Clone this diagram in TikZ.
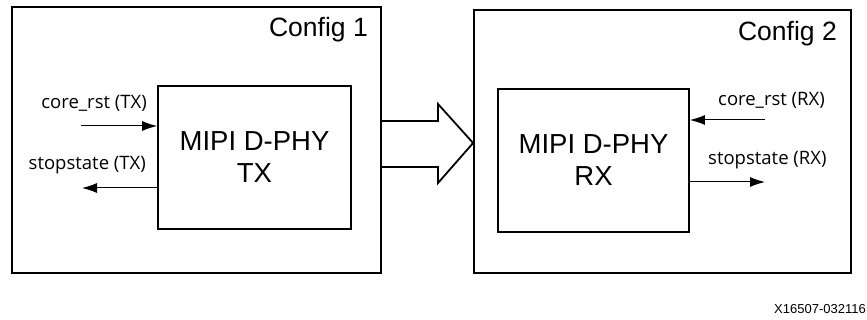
\documentclass[tikz,border=0pt]{standalone}
\usepackage{fontspec}
\setmainfont{Liberation Sans}
\newfontfamily\sigfont{Open Sans}
\usetikzlibrary{arrows.meta}
\tikzset{
  box/.style={draw, line width=1.8pt, inner sep=0pt},
  blk/.style={draw, line width=1.8pt, inner sep=0pt, align=center, font=\fontsize{27.5}{32}\selectfont},
  sig/.style={line width=1pt, -{Latex[length=15pt,width=10pt]}},
  siglabel/.style={inner sep=0pt, font=\sigfont\fontsize{18.5}{22}\selectfont},
  cfglabel/.style={inner sep=0pt, font=\fontsize{26.5}{30}\selectfont},
  bigarrow/.style={draw, line width=1.8pt, line join=miter}
}
\begin{document}
\begin{tikzpicture}[x=1pt,y=-1pt]
\useasboundingbox (0,0) rectangle (867,320);
\node[box, minimum width=369pt, minimum height=266pt] (cfg1) at (196.5,140) {};
\node[box, minimum width=377pt, minimum height=263pt] (cfg2) at (662.5,141.5) {};
\node[blk, minimum width=193pt, minimum height=143pt] (tx) at (254.5,157.5) {MIPI D-PHY\\TX};
\node[blk, minimum width=191pt, minimum height=143pt] (rx) at (593.5,160.5) {MIPI D-PHY\\RX};
\node[cfglabel, anchor=east] (c1) at (368,30) {Config 1};
\node[cfglabel, anchor=east] (c2) at (837,34) {Config 2};
% signals TX
\node[siglabel, anchor=east] (l1) at (147,103) {core\_rst (TX)};
\node[siglabel, anchor=east] (l2) at (146,165) {stopstate (TX)};
\coordinate (a1) at (81,126);
\coordinate (a2) at (82,188);
\draw[sig] (a1) -- (a1 -| tx.west);
\draw[sig] (a2 -| tx.west) -- (a2);
% signals RX
\node[siglabel, anchor=west] (l3) at (718,100) {core\_rst (RX)};
\node[siglabel, anchor=west] (l4) at (708,160) {stopstate (RX)};
\coordinate (b1) at (765,120);
\coordinate (b2) at (765,182);
\draw[sig] (b1) -- (b1 -| rx.east);
\draw[sig] (b2 -| rx.east) -- (b2);
% big arrow
\coordinate (p1) at (cfg1.east |- 0,121);
\coordinate (p2) at (cfg1.east |- 0,167);
\coordinate (tip) at (cfg2.west |- 0,143);
\draw[bigarrow] (p1) -- (438,121) -- (438,104) -- (tip) -- (438,183) -- (438,167) -- (p2);
% footer
\node[inner sep=0pt, anchor=east, font=\fontsize{13}{15}\selectfont] (fig) at (866,309) {X16507-032116};
\end{tikzpicture}
\end{document}
